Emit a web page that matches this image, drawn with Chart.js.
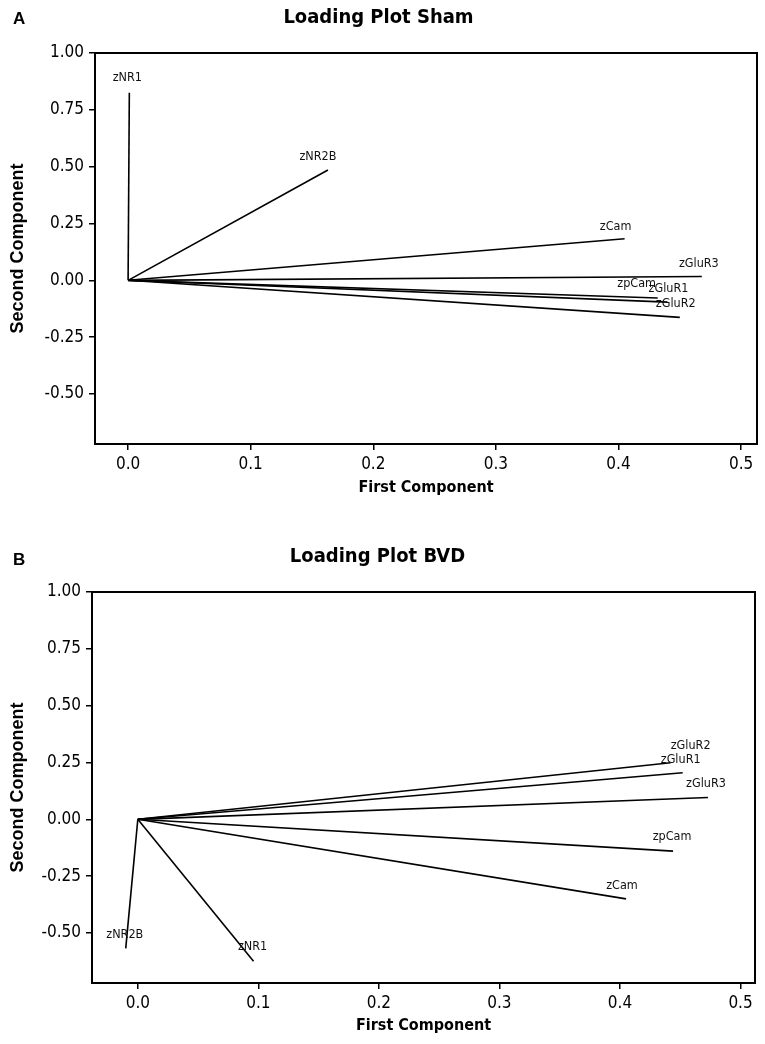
<!DOCTYPE html>
<html>
<head>
<meta charset="utf-8">
<script src="https://cdn.jsdelivr.net/npm/chart.js@4.4.1/dist/chart.umd.min.js"></script>
<style>
  body { margin: 0; background: #fff; }
  .panel { position: absolute; left: 0; width: 765px; }
</style>
</head>
<body>
<div class="panel" style="top:0;height:520px"><canvas id="sham" width="765" height="520"></canvas></div>
<div class="panel" style="top:520px;height:524px"><canvas id="bvd" width="765" height="524"></canvas></div>
<script>
// loadings
const shamNames = ['zNR1', 'zNR2B', 'zCam', 'zGluR3', 'zpCam', 'zGluR1', 'zGluR2'];
const shamX = [0.001, 0.163, 0.405, 0.468, 0.432, 0.440, 0.450];
const shamY = [0.825, 0.485, 0.183, 0.017, -0.078, -0.096, -0.163];

const bvdNames = ['zGluR2', 'zGluR1', 'zGluR3', 'zpCam', 'zCam', 'zNR2B', 'zNR1'];
const bvdX = [0.442, 0.452, 0.473, 0.444, 0.405, -0.010, 0.096];
const bvdY = [0.249, 0.205, 0.096, -0.140, -0.350, -0.568, -0.624];

const xTicks = [0.0, 0.1, 0.2, 0.3, 0.4, 0.5];
const yTicks = [-0.50, -0.25, 0.00, 0.25, 0.50, 0.75, 1.00];

// pixel nudges for the vector labels (relative to the arrow tip)
const shamNudge = [[-2, -15], [-10, -13], [-9, -12], [-3, -13], [-21, -14], [1, -13], [-4, -14]];
const bvdNudge = [[20, -17], [-2, -13], [-2, -14], [-1, -14], [-4, -13], [-1, -14], [-1, -14]];

const tickFont = "'DejaVu Sans Condensed', 'DejaVu Sans', sans-serif";

const extras = {
  id: 'extras',
  afterDatasetsDraw(chart) {
    const { ctx, chartArea: a } = chart;
    const o = chart.options.plugins.extras;
    ctx.save();
    ctx.strokeStyle = '#000';
    ctx.lineWidth = 2;
    ctx.strokeRect(a.left, a.top, a.right - a.left, a.bottom - a.top);
    ctx.fillStyle = '#111';
    ctx.font = "12.5px " + tickFont;
    ctx.textAlign = 'center';
    ctx.textBaseline = 'middle';
    const xs = chart.scales.x, ys = chart.scales.y;
    o.names.forEach((n, i) => {
      const px = xs.getPixelForValue(o.xv[i]) + o.nudge[i][0];
      const py = ys.getPixelForValue(o.yv[i]) + o.nudge[i][1];
      ctx.fillText(n, px, py);
    });
    ctx.fillStyle = '#000';
    ctx.font = "bold 17px 'Liberation Sans', Arial, sans-serif";
    ctx.textAlign = 'left';
    ctx.fillText(o.letter, o.letterPos[0], o.letterPos[1]);
    ctx.restore();
  }
};

function makeChart(id, title, names, xv, yv, nudge, lay) {
  const datasets = names.map((n, i) => ({
    label: n,
    data: [{ x: 0, y: 0 }, { x: xv[i], y: yv[i] }],
    borderColor: '#000',
    borderWidth: 1.6,
    pointRadius: 0,
    fill: false
  }));
  return new Chart(document.getElementById(id), {
    type: 'line',
    data: { datasets },
    plugins: [extras],
    options: {
      responsive: false,
      animation: false,
      layout: { padding: { left: 0, right: lay.right, top: 0, bottom: 0 } },
      plugins: {
        legend: { display: false },
        tooltip: { enabled: false },
        title: {
          display: true,
          text: title,
          color: '#000',
          font: { family: tickFont, size: 20, weight: 'bold' },
          padding: { top: lay.titleTop, bottom: lay.titleBottom }
        },
        extras: { names, xv, yv, nudge, letter: lay.letter, letterPos: lay.letterPos }
      },
      scales: {
        x: {
          type: 'linear',
          min: lay.xMin, max: lay.xMax,
          afterBuildTicks: s => { s.ticks = xTicks.map(v => ({ value: v })); },
          afterFit: s => { s.height = lay.xHeight; },
          border: { color: '#000', width: 2 },
          grid: { drawOnChartArea: false, color: '#000', lineWidth: 1.5, tickLength: 6 },
          ticks: {
            color: '#000', padding: 4,
            font: { family: tickFont, size: 17 },
            callback: v => v.toFixed(1)
          },
          title: {
            display: true, text: 'First Component', color: '#000',
            font: { family: tickFont, size: 16, weight: 'bold' },
            padding: { top: 0, bottom: lay.xTitlePad }
          }
        },
        y: {
          type: 'linear',
          min: -0.72, max: 1.0,
          afterBuildTicks: s => { s.ticks = yTicks.map(v => ({ value: v })); },
          afterFit: s => { s.width = lay.yWidth; },
          border: { color: '#000', width: 2 },
          grid: { drawOnChartArea: false, color: '#000', lineWidth: 1.5, tickLength: 6 },
          ticks: {
            color: '#000', padding: 5,
            font: { family: tickFont, size: 17 },
            callback: v => v.toFixed(2)
          },
          title: {
            display: true, text: 'Second Component', color: '#000',
            font: { family: "'Liberation Sans', Arial, sans-serif", size: 18, weight: 'bold' },
            padding: { top: 7, bottom: 0 }
          }
        }
      }
    }
  });
}

makeChart('sham', 'Loading Plot Sham', shamNames, shamX, shamY, shamNudge, {
  right: 8, titleTop: 6, titleBottom: 23, xHeight: 76, yWidth: 95, xTitlePad: 22.4,
  xMin: -0.027, xMax: 0.513, letter: 'A', letterPos: [13, 19]
});
makeChart('bvd', 'Loading Plot BVD', bvdNames, bvdX, bvdY, bvdNudge, {
  right: 10, titleTop: 25, titleBottom: 23, xHeight: 61, yWidth: 92, xTitlePad: 8.4,
  xMin: -0.038, xMax: 0.512, letter: 'B', letterPos: [13, 40]
});
</script>
</body>
</html>
